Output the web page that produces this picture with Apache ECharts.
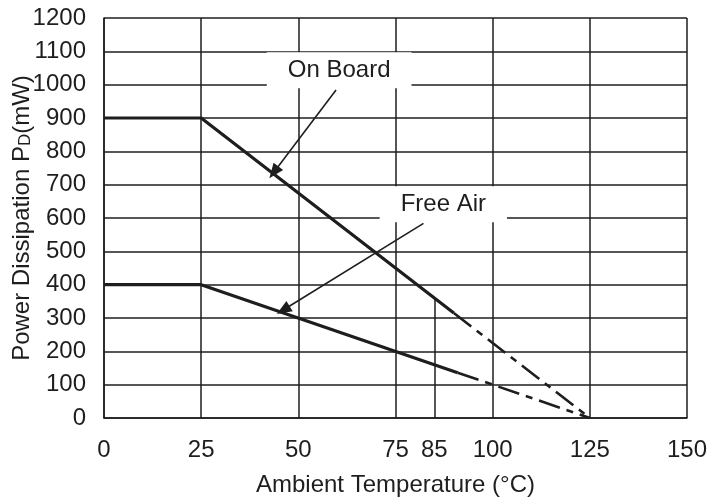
<!DOCTYPE html>
<html>
<head>
<meta charset="utf-8">
<script src="https://cdn.jsdelivr.net/npm/echarts@6/dist/echarts.min.js"></script>
<style>
  html, body { margin: 0; padding: 0; background: #fff; }
  #main { width: 707px; height: 499px; }
</style>
</head>
<body>
<div id="main"></div>
<script>
// 数据
var xTickLabels = [0, 25, 50, 75, 85, 100, 125, 150]
var onBoardSolid = [[0, 900], [25, 900], [90, 315]]
var onBoardDashed = [[90, 315], [125, 0]]
var freeAirSolid = [[0, 400], [25, 400], [91, 136]]
var freeAirDashed = [[91, 136], [125, 0]]
// 标注 (数据坐标)
var onBoardLabel = { name: 'On Board', coord: [60.5, 1043] }
var freeAirLabel = { name: 'Free Air', coord: [87.3, 641] }
var onBoardArrow = [[59.7, 984], [43.7, 737]]
var freeAirArrow = [[82.2, 584], [46.1, 324]]
var mark85 = [[85, 0], [85, 360]]

var ink = '#1e1e1e'
var font = 'Liberation Sans, Arial, Helvetica, sans-serif'
var fs = 24

var chart = echarts.init(document.getElementById('main'))

function labelPoint (item) {
  return {
    name: item.name,
    coord: item.coord,
    symbol: 'rect',
    symbolSize: 0,
    label: {
      show: true,
      position: 'inside',
      formatter: item.name,
      color: ink,
      fontSize: fs,
      fontFamily: font,
      backgroundColor: '#fff',
      padding: [6, 21, 6, 21]
    }
  }
}

function segment (pts) {
  return [{ coord: pts[0] }, { coord: pts[1] }]
}

var options = {
  animation: false,
  textStyle: { fontFamily: font },
  grid: { left: 104, right: 20, top: 18, bottom: 81, containLabel: false, outerBoundsMode: 'none' },
  xAxis: {
    type: 'value',
    min: 0,
    max: 150,
    interval: 25,
    name: 'Ambient Temperature (°C)',
    nameLocation: 'middle',
    nameGap: 55,
    nameMoveOverlap: false,
    nameTextStyle: { fontSize: fs, color: ink, fontFamily: font },
    axisLine: { show: true, onZero: false, lineStyle: { color: ink, width: 1.5 } },
    axisTick: { show: false },
    axisLabel: {
      customValues: xTickLabels,
      margin: 20,
      fontSize: fs,
      color: ink,
      fontFamily: font,
      formatter: function (v) { return String(v) }
    },
    splitLine: { show: true, lineStyle: { color: ink, width: 1.5 } }
  },
  yAxis: {
    type: 'value',
    min: 0,
    max: 1200,
    interval: 100,
    name: '{a|Power Dissipation P}{s|D}{a|(mW)}',
    nameLocation: 'middle',
    nameRotate: 90,
    nameGap: 70,
    nameMoveOverlap: false,
    nameTextStyle: {
      rich: {
        a: { fontSize: fs, color: ink, fontFamily: font, lineHeight: 28, verticalAlign: 'bottom' },
        s: { fontSize: 17, color: ink, fontFamily: font, lineHeight: 28, verticalAlign: 'bottom' }
      }
    },
    axisLine: { show: true, lineStyle: { color: ink, width: 1.5 } },
    axisTick: { show: false },
    axisLabel: {
      margin: 18,
      fontSize: fs,
      color: ink,
      fontFamily: font,
      formatter: function (v) { return String(v) }
    },
    splitLine: { show: true, lineStyle: { color: ink, width: 1.5 } }
  },
  series: [
    {
      name: 'On Board',
      type: 'line',
      data: onBoardSolid,
      symbol: 'none',
      lineStyle: { color: ink, width: 3.2 },
      markLine: {
        silent: true,
        symbol: ['none', 'none'],
        label: { show: false },
        lineStyle: { color: ink, width: 1.5, type: 'solid' },
        data: [segment(mark85)]
      },
      markPoint: {
        silent: true,
        data: [labelPoint(onBoardLabel)]
      }
    },
    {
      name: 'On Board ext',
      type: 'line',
      data: onBoardDashed,
      symbol: 'none',
      lineStyle: { color: ink, width: 2.6, type: [22, 7, 7, 7] }
    },
    {
      name: 'Free Air',
      type: 'line',
      data: freeAirSolid,
      symbol: 'none',
      lineStyle: { color: ink, width: 3.2 },
      markLine: {
        silent: true,
        symbol: ['none', 'triangle'],
        symbolSize: [12, 15],
        label: { show: false },
        lineStyle: { color: ink, width: 1.6, type: 'solid' },
        data: [segment(onBoardArrow), segment(freeAirArrow)]
      },
      markPoint: {
        silent: true,
        data: [labelPoint(freeAirLabel)]
      }
    },
    {
      name: 'Free Air ext',
      type: 'line',
      data: freeAirDashed,
      symbol: 'none',
      lineStyle: { color: ink, width: 2.6, type: [22, 7, 7, 7] }
    }
  ]
}

chart.setOption(options, true)
window.addEventListener('resize', () => {
  chart.resize()
})
</script>
</body>
</html>
